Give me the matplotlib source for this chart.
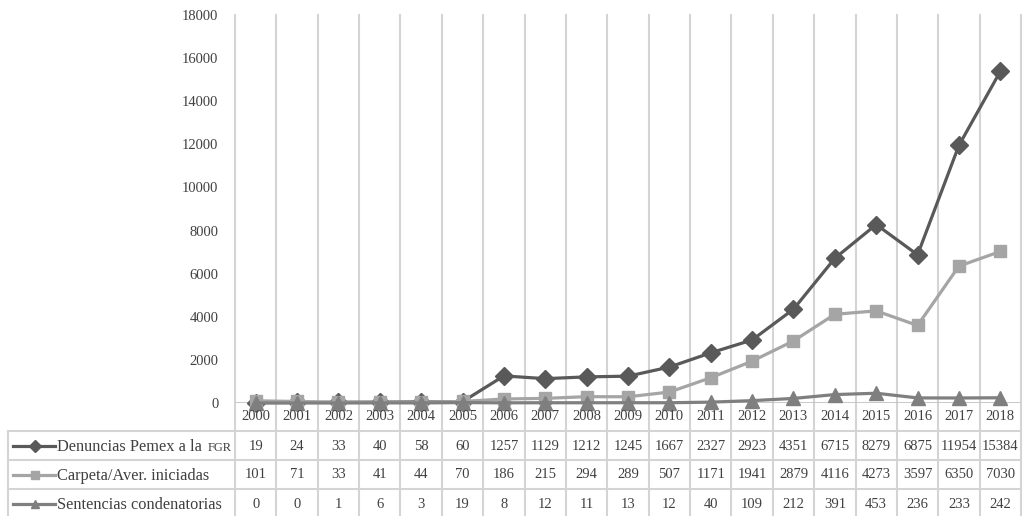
import matplotlib
matplotlib.use("Agg")
import matplotlib.pyplot as plt
from matplotlib.lines import Line2D

plt.rcParams['font.family'] = ['Liberation Serif', 'DejaVu Serif']

years = [str(y) for y in range(2000, 2019)]
denuncias = [19, 24, 33, 40, 58, 60, 1257, 1129, 1212, 1245, 1667, 2327, 2923,
             4351, 6715, 8279, 6875, 11954, 15384]
carpetas = [101, 71, 33, 41, 44, 70, 186, 215, 294, 289, 507, 1171, 1941,
            2879, 4116, 4273, 3597, 6350, 7030]
sentencias = [0, 0, 1, 6, 3, 19, 8, 12, 11, 13, 12, 40, 109, 212, 391, 453,
              236, 233, 242]
yticks = list(range(0, 18001, 2000))

series = [
    ("Denuncias Pemex a la", "FGR", denuncias, '#595959', 'D'),
    ("Carpeta/Aver. iniciadas", "", carpetas, '#a5a5a5', 's'),
    ("Sentencias condenatorias", "", sentencias, '#7f7f7f', '^'),
]

W, H = 1027, 516
fig = plt.figure(figsize=(W / 100, H / 100), dpi=100)

def fx(x):
    return x / W

def fy(y):
    return 1 - y / H

left, right, top, bottom = 235, 1021, 15, 403
ax = fig.add_axes([fx(left), fy(bottom), fx(right - left), fy(top) - fy(bottom)])
ax.patch.set_visible(False)

n = len(years)
xs = list(range(n))
sizes = {'D': 9, 's': 9, '^': 10}
for name, sc, vals, col, mk in series:
    ax.plot(xs, vals, color=col, lw=2.3, marker=mk, markersize=sizes[mk],
            markeredgecolor=col, markerfacecolor=col, zorder=3, clip_on=False)

ax.set_xlim(-0.5, n - 0.5)
ax.set_ylim(0, 18000)
ax.set_yticks(yticks)
ax.set_xticks([])
ax.tick_params(axis='y', length=0, pad=12, labelsize=10.5, labelcolor='#404040')
for s in ax.spines.values():
    s.set_visible(False)
ax.axhline(0, color='#bfbfbf', lw=1.2, zorder=1)

grid = '#d4d4d4'
colw = (right - left) / n
# vertical lines through plot and table
for k in range(n + 1):
    x = left + k * colw
    fig.add_artist(Line2D([fx(x), fx(x)], [fy(top), fy(H)], color=grid, lw=1.5, zorder=0))
fig.add_artist(Line2D([fx(8), fx(8)], [fy(431), fy(H)], color=grid, lw=1.5, zorder=0))
for y in [431, 460, 489]:
    fig.add_artist(Line2D([fx(8), fx(right)], [fy(y), fy(y)], color=grid, lw=1.5, zorder=0))

txtc = '#404040'
for i, yr in enumerate(years):
    cx = left + (i + 0.5) * colw
    fig.text(fx(cx), fy(416), yr, ha='center', va='center', fontsize=10.5, color=txtc)

row_y = [446, 475, 504]
renderer = fig.canvas.get_renderer()
for r, (name, sc, vals, col, mk) in enumerate(series):
    ry = row_y[r]
    for i, v in enumerate(vals):
        cx = left + (i + 0.5) * colw
        fig.text(fx(cx), fy(ry), str(v), ha='center', va='center', fontsize=10.5, color=txtc)
    fig.add_artist(Line2D([fx(13), fx(55)], [fy(ry), fy(ry)], color=col, lw=2.3))
    fig.add_artist(Line2D([fx(35)], [fy(ry)], color=col, marker=mk, markersize=6,
                          markeredgecolor=col, markerfacecolor=col))
    t = fig.text(fx(57), fy(ry + 5), name, ha='left', va='baseline', fontsize=11.8, color=txtc)
    if sc:
        bb = t.get_window_extent(renderer)
        fig.text((bb.x1 + 6) / W, fy(ry + 5), sc, ha='left', va='baseline',
                 fontsize=9, color=txtc)

fig.savefig("out.png", dpi=100)
